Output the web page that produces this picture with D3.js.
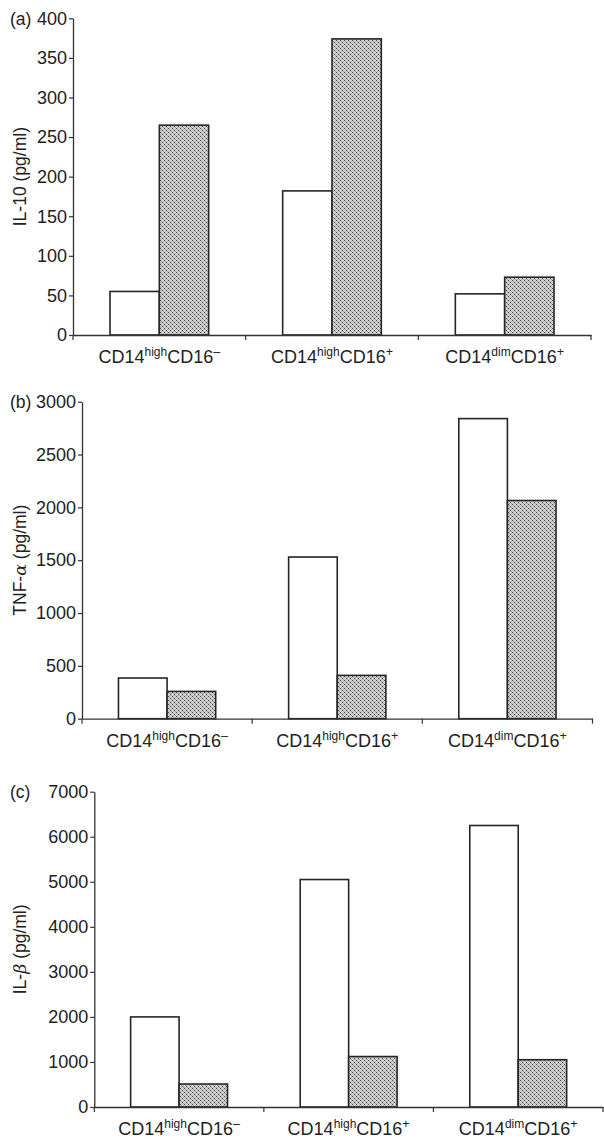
<!DOCTYPE html>
<html><head><meta charset="utf-8">
<script src="https://cdn.jsdelivr.net/npm/d3@7"></script>
<style>
html,body{margin:0;padding:0;background:#fff;}
text{font-family:"Liberation Sans",Arial,Helvetica,sans-serif;fill:#222;}
</style></head>
<body>
<svg id="chart" width="604" height="1140"></svg>
<script>
// ---- data ----
const catMain = ["CD14", "CD14", "CD14"];
const catMarker = ["high", "high", "dim"];
const catSign = ["\u2013", "+", "+"];
const series = ["open", "shaded"];

const il10Open = [55, 182, 52];
const il10Shaded = [265, 374, 73];
const il10Ticks = [0, 50, 100, 150, 200, 250, 300, 350, 400];

const tnfOpen = [385, 1530, 2840];
const tnfShaded = [258, 410, 2065];
const tnfTicks = [0, 500, 1000, 1500, 2000, 2500, 3000];

const il1bOpen = [2000, 5050, 6250];
const il1bShaded = [510, 1120, 1050];
const il1bTicks = [0, 1000, 2000, 3000, 4000, 5000, 6000, 7000];

// ---- layout ----
const panels = [
  {tag:"(a)", title:["IL-10 (pg/ml)"], open:il10Open, shaded:il10Shaded, ticks:il10Ticks,
   x0:73, x1:591, yTop:18.3, yBot:335, titleX:20},
  {tag:"(b)", title:["TNF-","\u03b1"," (pg/ml)"], open:tnfOpen, shaded:tnfShaded, ticks:tnfTicks,
   x0:82, x1:592.5, yTop:401.7, yBot:718.7, titleX:20},
  {tag:"(c)", title:["IL-","\u03b2"," (pg/ml)"], open:il1bOpen, shaded:il1bShaded, ticks:il1bTicks,
   x0:94.3, x1:603, yTop:791.7, yBot:1107, titleX:20}
];

const svg = d3.select("#chart");
const defs = svg.append("defs");
const pat = defs.append("pattern").attr("id","stipple").attr("patternUnits","userSpaceOnUse")
  .attr("width",4).attr("height",4);
pat.append("rect").attr("width",4).attr("height",4).attr("fill","#d2d2d2");
[[0,0,"#4a4a4a"],[2,2,"#4a4a4a"],[1,1,"#a0a0a0"],[3,3,"#a0a0a0"],[1,3,"#b0b0b0"],[3,1,"#b0b0b0"]]
  .forEach(([px,py,c]) => pat.append("rect").attr("x",px).attr("y",py).attr("width",1).attr("height",1).attr("fill",c));

const idx = [0,1,2];

panels.forEach(p => {
  const g = svg.append("g");
  const x = d3.scaleBand().domain(idx).range([p.x0, p.x1]).paddingInner(0).paddingOuter(0);
  const inner = d3.scaleBand().domain(series).range([0, x.bandwidth()]).paddingOuter(0.75).paddingInner(0);
  const y = d3.scaleLinear().domain([0, p.ticks[p.ticks.length-1]]).range([p.yBot, p.yTop]);

  // bars
  idx.forEach(i => {
    const vals = {open:p.open[i], shaded:p.shaded[i]};
    series.forEach(s => {
      g.append("rect")
        .attr("x", x(i) + inner(s))
        .attr("y", y(vals[s]))
        .attr("width", inner.bandwidth())
        .attr("height", y(0) - y(vals[s]))
        .attr("fill", s === "open" ? "#fff" : "url(#stipple)")
        .attr("stroke", "#262626")
        .attr("stroke-width", 1.6);
    });
  });

  // y axis
  const yAxis = d3.axisLeft(y).tickValues(p.ticks).tickFormat(d3.format("d"))
    .tickSize(4).tickPadding(2).tickSizeOuter(0);
  const ya = g.append("g").attr("transform", `translate(${p.x0},0)`).call(yAxis);
  ya.attr("font-size", null).attr("font-family", null);
  ya.select(".domain").attr("stroke","#333").attr("stroke-width",1.3);
  ya.selectAll(".tick line").attr("stroke","#333").attr("stroke-width",1.2);
  ya.selectAll(".tick text").attr("font-size",18).attr("fill","#222");

  // x axis
  const xAxis = d3.axisBottom(x).tickValues([]).tickSizeOuter(0);
  const xa = g.append("g").attr("transform", `translate(0,${p.yBot})`).call(xAxis);
  xa.attr("font-size", null).attr("font-family", null);
  xa.select(".domain").attr("stroke","#333").attr("stroke-width",1.3);
  const bounds = [p.x0].concat(idx.map(i => x(i) + x.bandwidth()));
  bounds.forEach(bx => {
    xa.append("line").attr("x1",bx).attr("x2",bx).attr("y1",0).attr("y2",5)
      .attr("stroke","#333").attr("stroke-width",1.2);
  });
  idx.forEach(i => {
    const t = xa.append("text").attr("x", x(i) + x.bandwidth()/2).attr("y", 28)
      .attr("text-anchor","middle").attr("font-size",18);
    t.append("tspan").text(catMain[i]);
    t.append("tspan").text(catMarker[i]).attr("font-size",12).attr("dy",-7);
    t.append("tspan").text("CD16").attr("dy",7);
    t.append("tspan").text(catSign[i]).attr("font-size",12.5).attr("dy",-7);
  });

  // panel tag
  g.append("text").attr("x",10).attr("y",p.yTop + 6.5).attr("font-size",17.5).text(p.tag);

  // y title
  const yc = (p.yTop + p.yBot)/2;
  const tt = g.append("text").attr("transform",`translate(${p.titleX},${yc}) rotate(-90)`)
    .attr("text-anchor","middle").attr("dy","0.35em").attr("font-size",17.5);
  p.title.forEach((s,k) => {
    const sp = tt.append("tspan").text(s);
    if (k === 1) sp.attr("font-style","italic").attr("font-family","'DejaVu Serif',serif");
  });
});
</script>
</body></html>
